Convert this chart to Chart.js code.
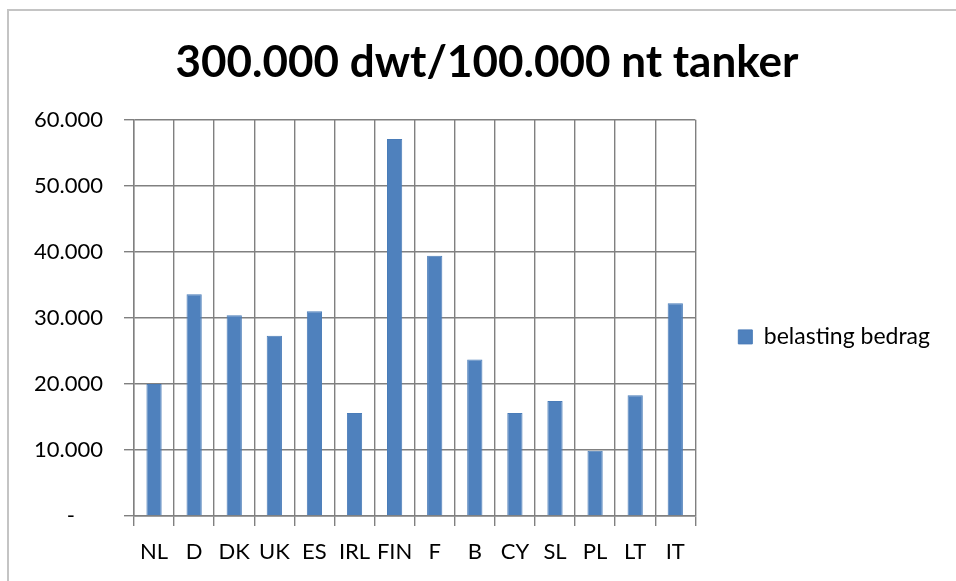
<!DOCTYPE html>
<html>
<head>
<meta charset="utf-8">
<script src="https://cdn.jsdelivr.net/npm/chart.js@4.4.0/dist/chart.umd.min.js"></script>
<style>
  html, body { margin: 0; padding: 0; background: #fff; }
  #wrap { width: 956px; height: 581px; }
</style>
</head>
<body>
<div id="wrap"><canvas id="c" width="956" height="581"></canvas></div>
<script>
const titleText = '300.000 dwt/100.000 nt tanker';
const categories = ['NL', 'D', 'DK', 'UK', 'ES', 'IRL', 'FIN', 'F', 'B', 'CY', 'SL', 'PL', 'LT', 'IT'];
const seriesName = 'belasting bedrag';
const belastingBedrag = [20000, 33600, 30400, 27300, 31000, 15600, 57100, 39400, 23700, 15600, 17400, 9900, 18300, 32200];
const yTicks = [0, 10000, 20000, 30000, 40000, 50000, 60000];

function fmt(v) {
  if (v === 0) return '-\u00a0\u00a0\u00a0\u00a0\u00a0';
  return String(v).replace(/\B(?=(\d{3})+(?!\d))/g, '.');
}

const frame = {
  id: 'frame',
  afterLayout(chart) {
    // centre the title a little right of the canvas centre, as in the reference
    const tb = chart.titleBlock;
    if (tb) { tb.left += 17; tb.right += 17; }
  },
  beforeDraw(chart) {
    const ctx = chart.ctx;
    ctx.save();
    ctx.fillStyle = '#fff';
    ctx.fillRect(0, 0, chart.width, chart.height);
    ctx.strokeStyle = '#c4c4c4';
    ctx.lineWidth = 2;
    ctx.beginPath();
    ctx.moveTo(8, chart.height);
    ctx.lineTo(8, 10);
    ctx.lineTo(chart.width, 10);
    ctx.stroke();
    ctx.restore();
  }
};

const PAD_L = 0, PAD_R = 16;

new Chart(document.getElementById('c'), {
  type: 'bar',
  data: {
    labels: categories,
    datasets: [{
      label: seriesName,
      data: belastingBedrag,
      backgroundColor: '#4f81bd',
      borderColor: '#4a7cb8',
      borderWidth: 1,
      barPercentage: 0.38,
      categoryPercentage: 1
    }]
  },
  options: {
    responsive: false,
    animation: false,
    devicePixelRatio: 1,
    layout: { padding: { left: PAD_L, right: PAD_R, top: 0, bottom: 0 } },
    plugins: {
      title: {
        display: true,
        text: titleText,
        color: '#000',
        font: { family: 'Lato', size: 44, weight: 'bold', lineHeight: 1.2 },
        padding: { top: 36, bottom: 31 }
      },
      legend: {
        position: 'right',
        fullSize: false,
        maxWidth: 956 - PAD_R - 695,
        title: { display: true, text: '', font: { size: 10, lineHeight: 1.2 }, padding: 13 },
        labels: {
          color: '#000',
          font: { family: 'Lato', size: 23 },
          boxWidth: 14,
          boxHeight: 14,
          padding: 43
        }
      },
      tooltip: { enabled: false }
    },
    scales: {
      x: {
        afterFit(s) { s.height = 65; },
        grid: { color: '#808080', lineWidth: 1.4, offset: true, tickLength: 10, drawTicks: true },
        border: { color: '#808080', width: 1.4 },
        ticks: { color: '#000', font: { family: 'Lato', size: 22 }, padding: 13, maxRotation: 0, autoSkip: false }
      },
      y: {
        min: 0, max: 60000,
        afterFit(s) { s.width = 134 - PAD_L; },
        afterBuildTicks(s) { s.ticks = yTicks.map(v => ({ value: v })); },
        grid: { color: '#808080', lineWidth: 1.4, tickLength: 10 },
        border: { color: '#808080', width: 1.4 },
        ticks: { color: '#000', font: { family: 'Lato', size: 22 }, padding: 21, callback: v => fmt(v) }
      }
    }
  },
  plugins: [frame]
});
</script>
</body>
</html>
